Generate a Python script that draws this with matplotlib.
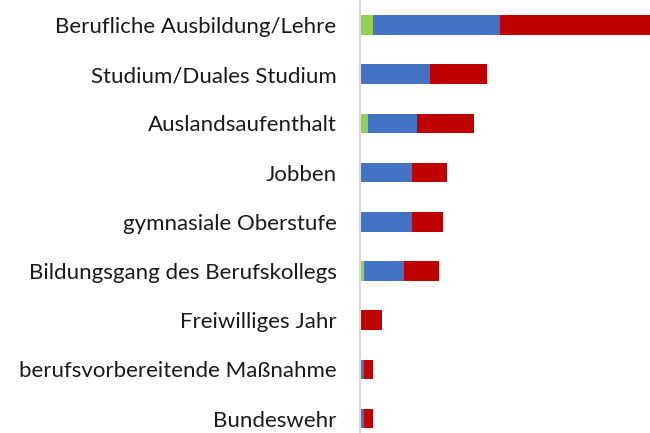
import numpy as np
import matplotlib.pyplot as plt

plt.rcParams['font.family'] = ['Lato', 'DejaVu Sans']

categories = [
    "Berufliche Ausbildung/Lehre",
    "Studium/Duales Studium",
    "Auslandsaufenthalt",
    "Jobben",
    "gymnasiale Oberstufe",
    "Bildungsgang des Berufskollegs",
    "Freiwilliges Jahr",
    "berufsvorbereitende Maßnahme",
    "Bundeswehr",
]
green = [13, 0, 8, 0, 0, 4, 0, 0, 0]
blue = [127, 70, 49, 52, 52, 40, 0, 4, 4]
red = [150, 57, 57, 35, 31, 35, 22, 9, 9]

fig = plt.figure(figsize=(6.5, 4.33), dpi=100)
ax = fig.add_axes([360 / 650, 0, 1 - 360 / 650, 1])

y = np.arange(len(categories))
g = np.array(green)
b = np.array(blue)
r = np.array(red)
h = 0.4
ax.barh(y, g, height=h, color='#92D050')
ax.barh(y, b, left=g, height=h, color='#4472C4')
ax.barh(y, r, left=g + b, height=h, color='#C00000')

ax.set_xlim(0, 290)
ax.set_ylim(8.293, -0.508)
ax.set_yticks(y)
ax.set_yticklabels(categories, fontsize=16, color='#1a1a1a')
ax.tick_params(axis='y', length=0, pad=17)
ax.set_xticks([])
for s in ['top', 'right', 'bottom']:
    ax.spines[s].set_visible(False)
ax.spines['left'].set_color('#D9D9D9')
ax.spines['left'].set_linewidth(1.5)

fig.savefig('out.png', dpi=100)
